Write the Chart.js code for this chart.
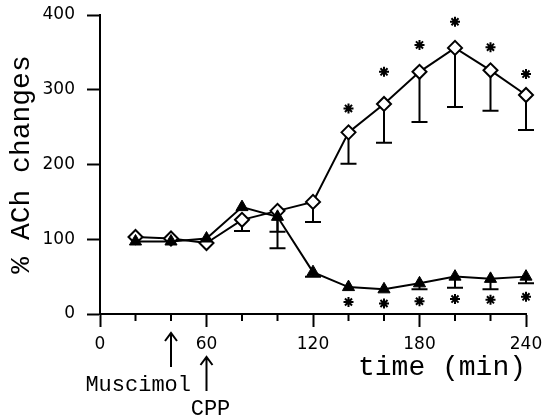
<!DOCTYPE html>
<html>
<head>
<meta charset="utf-8">
<script src="https://cdn.jsdelivr.net/npm/chart.js@4"></script>
<style>
  html, body { margin: 0; padding: 0; background: #fff; }
</style>
</head>
<body>
<canvas id="achChart" width="542" height="417"></canvas>
<script>
// sampling times (min) and % ACh values
const times = [20, 40, 60, 80, 100, 120, 140, 160, 180, 200, 220, 240];
const cppValues = [103, 101, 95, 126, 138, 150, 243, 281, 324, 356, 326, 293];
const cppErrLow = [null, null, null, 111, 110, 123, 201, 229, 257, 277, 272, 246];
const muscCppValues = [97, 97, 101, 143, 130, 56, 36, 33, 41, 50, 47, 50];
const muscCppErrLow = [null, null, null, null, 88, 50, null, null, 33, 35, 33, 41];

// significance asterisks
const starTimes = [140, 160, 180, 200, 220, 240];
const cppStars = [275, 324, 360, 391, 357, 321];
const muscCppStars = [16, 14, 17, 20, 19, 23];

const xTicks = [0, 60, 120, 180, 240];
const xMinorTicks = [20, 40, 80, 100, 140, 160, 200, 220];
const yTicks = [0, 100, 200, 300, 400];

const drugTimes = [40, 60];
const drugLabels = ['Muscimol', 'CPP'];

const toPoints = (xs, ys) => xs.map((x, i) => ({ x: x, y: ys[i] }));

// error bars hang below the marker only
const errorBars = {
  id: 'errorBars',
  beforeDatasetsDraw(chart) {
    const { ctx, scales: { x, y } } = chart;
    ctx.save();
    ctx.strokeStyle = '#000';
    ctx.lineWidth = 2;
    [[cppValues, cppErrLow], [muscCppValues, muscCppErrLow]].forEach(([vals, lows]) => {
      times.forEach((t, i) => {
        if (lows[i] == null) return;
        const px = x.getPixelForValue(t);
        const top = y.getPixelForValue(vals[i]);
        const bot = y.getPixelForValue(lows[i]);
        ctx.beginPath();
        ctx.moveTo(px, top);
        ctx.lineTo(px, bot);
        ctx.moveTo(px - 8, bot);
        ctx.lineTo(px + 8, bot);
        ctx.stroke();
      });
    });
    ctx.restore();
  }
};

// short minor ticks and the drug arrows under the axis
const axisExtras = {
  id: 'axisExtras',
  afterDraw(chart) {
    const { ctx, scales: { x }, chartArea } = chart;
    const base = chartArea.bottom;
    ctx.save();
    ctx.strokeStyle = '#000';
    ctx.lineWidth = 2;
    xMinorTicks.forEach(t => {
      const px = x.getPixelForValue(t);
      ctx.beginPath();
      ctx.moveTo(px, base);
      ctx.lineTo(px, base + 7);
      ctx.stroke();
    });

    ctx.fillStyle = '#000';
    ctx.font = '22px "Liberation Mono", monospace';
    drugTimes.forEach((t, i) => {
      const px = x.getPixelForValue(t);
      const tip = i === 0 ? base + 19 : base + 43;
      const tail = tip + 34;
      ctx.beginPath();
      ctx.moveTo(px, tip);
      ctx.lineTo(px, tail);
      ctx.moveTo(px - 6, tip + 8);
      ctx.lineTo(px, tip);
      ctx.lineTo(px + 6, tip + 8);
      ctx.stroke();
      if (i === 0) {
        ctx.textAlign = 'right';
        ctx.fillText(drugLabels[i], px + 20, base + 77);
      } else {
        ctx.textAlign = 'center';
        ctx.fillText(drugLabels[i], px + 4, base + 101);
      }
    });
    ctx.restore();
  }
};

new Chart(document.getElementById('achChart'), {
  type: 'line',
  data: {
    datasets: [
      {
        label: 'Muscimol + CPP',
        data: toPoints(times, muscCppValues),
        borderColor: '#000',
        borderWidth: 2,
        pointStyle: 'triangle',
        pointRadius: 7,
        pointBackgroundColor: '#000',
        pointBorderColor: '#000',
        pointBorderWidth: 1,
        tension: 0,
        clip: false
      },
      {
        label: 'CPP',
        data: toPoints(times, cppValues),
        borderColor: '#000',
        borderWidth: 2,
        pointStyle: 'rectRot',
        pointRadius: 7,
        pointBackgroundColor: '#fff',
        pointBorderColor: '#000',
        pointBorderWidth: 2,
        tension: 0,
        clip: false
      },
      {
        label: 'p<0.05 (CPP)',
        data: toPoints(starTimes, cppStars),
        showLine: false,
        pointStyle: 'star',
        pointRadius: 5,
        pointBorderColor: '#000',
        pointBorderWidth: 2,
        clip: false
      },
      {
        label: 'p<0.05 (Muscimol + CPP)',
        data: toPoints(starTimes, muscCppStars),
        showLine: false,
        pointStyle: 'star',
        pointRadius: 5,
        pointBorderColor: '#000',
        pointBorderWidth: 2,
        clip: false
      }
    ]
  },
  options: {
    responsive: false,
    animation: false,
    devicePixelRatio: 1,
    layout: { padding: { top: 15, right: 16, left: 0, bottom: 0 } },
    plugins: {
      legend: { display: false },
      tooltip: { enabled: false }
    },
    scales: {
      x: {
        type: 'linear',
        min: 0,
        max: 240,
        afterBuildTicks: s => { s.ticks = xTicks.map(v => ({ value: v })); },
        afterFit: s => {
          s.height = 103;
          s.paddingLeft = 0;
          s.paddingRight = 0;
        },
        border: { color: '#000', width: 2 },
        grid: { drawOnChartArea: false, tickLength: 13, tickColor: '#000', tickWidth: 2 },
        ticks: {
          color: '#000',
          padding: 7,
          maxRotation: 0,
          font: { family: 'DejaVu Sans', size: 17 }
        },
        title: {
          display: true,
          text: 'time (min)',
          align: 'end',
          color: '#000',
          font: { family: 'Liberation Mono', size: 28 },
          padding: { bottom: 33 }
        }
      },
      y: {
        min: 0,
        max: 400,
        afterBuildTicks: s => { s.ticks = yTicks.map(v => ({ value: v })); },
        afterFit: s => {
          s.width = 100;
          s.paddingTop = 0;
          s.paddingBottom = 0;
        },
        border: { color: '#000', width: 2 },
        grid: { drawOnChartArea: false, tickLength: 13, tickColor: '#000', tickWidth: 2 },
        ticks: {
          color: '#000',
          padding: 12,
          font: { family: 'DejaVu Sans', size: 17 }
        },
        title: {
          display: true,
          text: '% ACh changes',
          color: '#000',
          font: { family: 'Liberation Mono', size: 28 },
          padding: { top: 5 }
        }
      }
    }
  },
  plugins: [errorBars, axisExtras]
});
</script>
</body>
</html>
